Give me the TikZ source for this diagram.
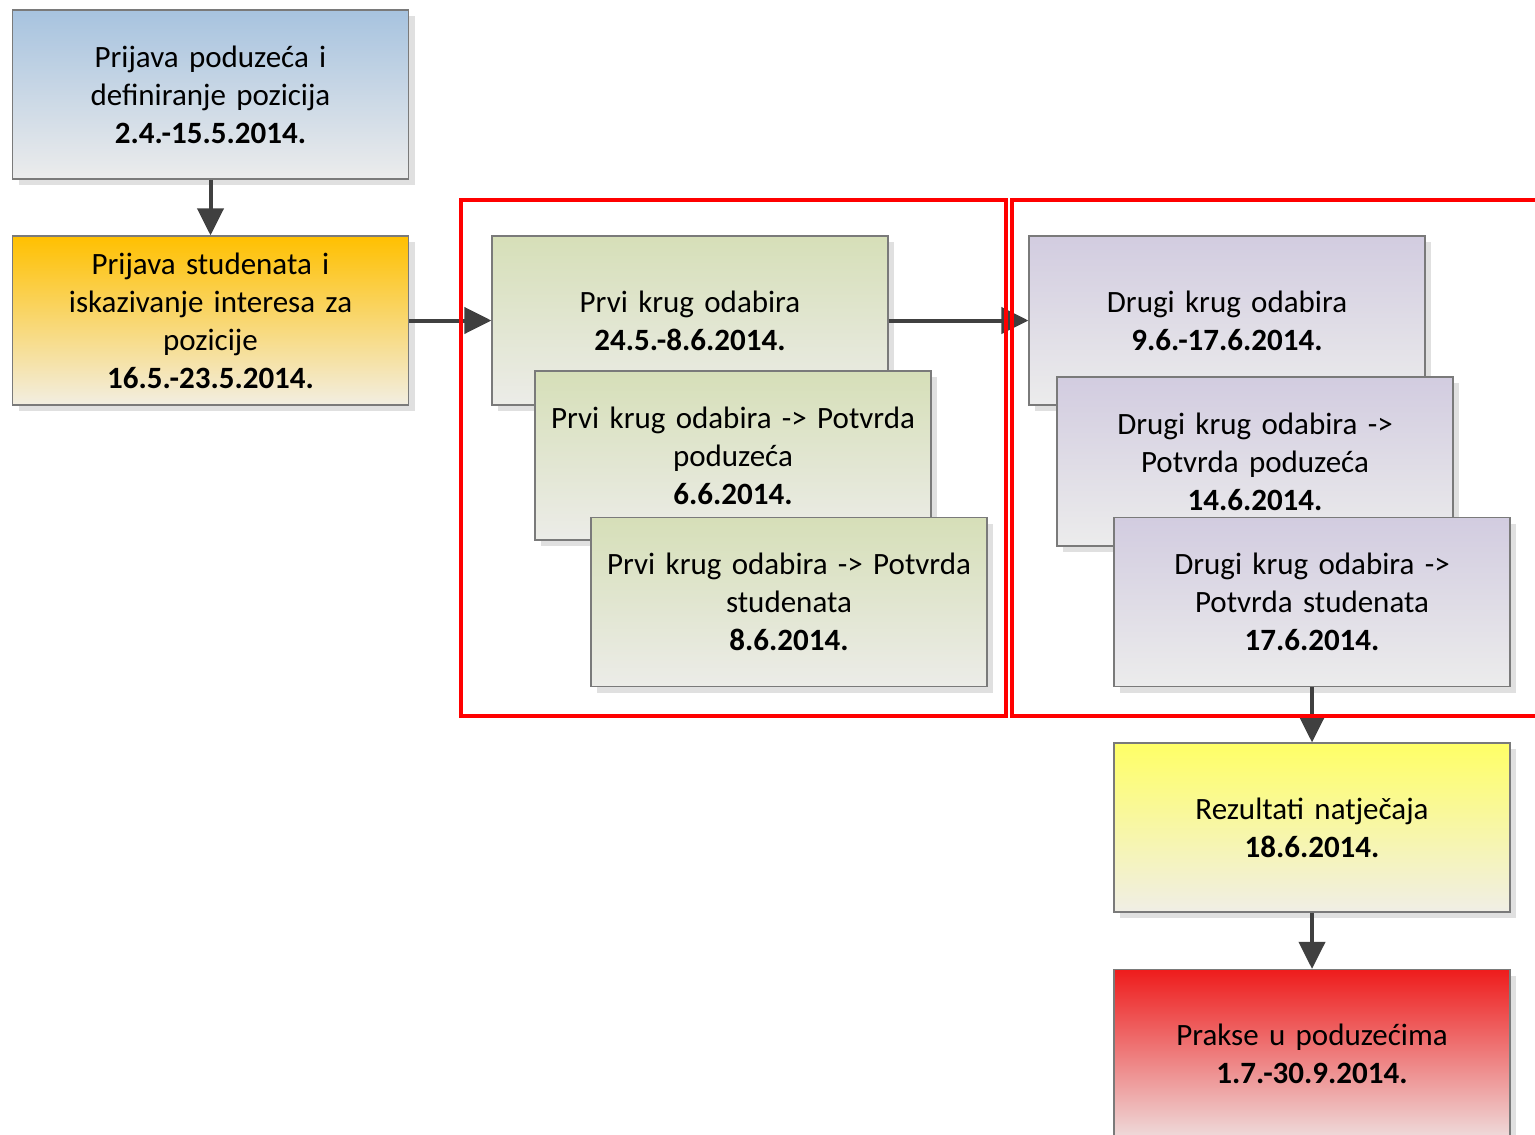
\documentclass[tikz,border=0pt]{standalone}
\usepackage{fontspec}
\setmainfont{Carlito}
\usetikzlibrary{arrows.meta,shadows}

\definecolor{boxline}{HTML}{7A7A7A}
\definecolor{arrowgray}{HTML}{404040}
\definecolor{shadowgray}{HTML}{E0E0E0}
\definecolor{boxbottom}{HTML}{ECECEC}
\definecolor{bluetop}{HTML}{A7C3DF}
\definecolor{orangetop}{HTML}{FFC000}
\definecolor{orangebottom}{HTML}{F2EEE2}
\definecolor{greentop}{HTML}{D6DFB8}
\definecolor{greenbottom}{HTML}{ECECE8}
\definecolor{lilactop}{HTML}{D2CCE0}
\definecolor{yellowtop}{HTML}{FFFF66}
\definecolor{yellowbottom}{HTML}{F0EEE6}
\definecolor{redtop}{HTML}{EE1C1C}
\definecolor{redbottom}{HTML}{EEDCDC}

\begin{document}
\begin{tikzpicture}[x=1pt,y=-1pt,>={Triangle[length=27pt,width=26pt]},
box/.style={draw=boxline,line width=1.2pt,rectangle,minimum width=396pt,minimum height=169pt,inner sep=0pt,text width=390pt,align=center,font=\fontsize{31}{38}\selectfont,drop shadow={shadow xshift=6pt,shadow yshift=-6pt,fill=shadowgray,opacity=1}},
flow/.style={->,line width=4pt,draw=arrowgray,fill=arrowgray},
frame/.style={draw=red,line width=4.5pt}]
\useasboundingbox (0,0) rectangle (1535,1135);
\node[box,top color=bluetop,bottom color=boxbottom] (1) at (210.5,94.5) {Prijava poduzeća i\\definiranje pozicija\\\textbf{2.4.-15.5.2014.}};
\node[box,top color=orangetop,bottom color=orangebottom] (2) at (210.5,320.5) {Prijava studenata i\\iskazivanje interesa za\\pozicije\\\textbf{16.5.-23.5.2014.}};
\node[box,top color=greentop,bottom color=greenbottom] (p1) at (690,320.5) {Prvi krug odabira\\\textbf{24.5.-8.6.2014.}};
\node[box,top color=greentop,bottom color=greenbottom] (p2) at (733,455.5) {Prvi krug odabira -> Potvrda\\poduzeća\\\textbf{6.6.2014.}};
\node[box,top color=greentop,bottom color=greenbottom] (p3) at (789,602) {Prvi krug odabira -> Potvrda\\studenata\\\textbf{8.6.2014.}};
\node[box,top color=lilactop,bottom color=boxbottom] (d1) at (1227,320.5) {Drugi krug odabira\\\textbf{9.6.-17.6.2014.}};
\node[box,top color=lilactop,bottom color=boxbottom] (d2) at (1255,461.5) {Drugi krug odabira ->\\Potvrda poduzeća\\\textbf{14.6.2014.}};
\node[box,top color=lilactop,bottom color=boxbottom] (d3) at (1312,602) {Drugi krug odabira ->\\Potvrda studenata\\\textbf{17.6.2014.}};
\node[box,top color=yellowtop,bottom color=yellowbottom] (r) at (1312,827.5) {Rezultati natječaja\\\textbf{18.6.2014.}};
\node[box,top color=redtop,bottom color=redbottom] (k) at (1312,1054) {Prakse u poduzećima\\\textbf{1.7.-30.9.2014.}};
\draw[flow] (1.south) -- (2.north);
\draw[flow] (2.east) -- (p1.west);
\draw[flow] (p1.east) -- (d1.west);
\draw[flow] (d3.south) -- (r.north);
\draw[flow] (r.south) -- (k.north);
% red frames round the two selection rounds
\draw[frame] (461,200) rectangle (1006,716);
\draw[frame] (1012,200) rectangle (1550,716);
\end{tikzpicture}
\end{document}
